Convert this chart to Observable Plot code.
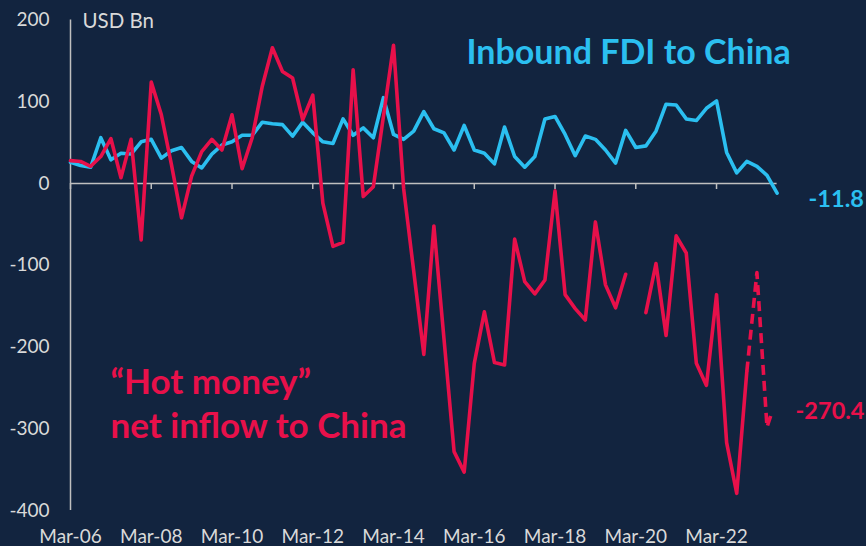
<!DOCTYPE html>
<html><head><meta charset="utf-8">
<script src="https://cdn.jsdelivr.net/npm/d3@7"></script>
<script src="https://cdn.jsdelivr.net/npm/@observablehq/plot@0.6"></script>
<style>html,body{margin:0;padding:0;background:#12243f;} #chart svg{display:block}</style>
</head><body><div id="chart"></div>
<script>
// Quarter index 0 = Mar-06 ... 70 = Sep-23
const tickQuarters = [0, 8, 16, 24, 32, 40, 48, 56, 64];
const tickLabels = ["Mar-06","Mar-08","Mar-10","Mar-12","Mar-14","Mar-16","Mar-18","Mar-20","Mar-22"];
const yTicks = [-400, -300, -200, -100, 0, 100, 200];

// Inbound FDI to China, USD Bn (quarterly)
const fdi = [26,22,20,56,29,37,36,51,54,31,40,44,27,19,36,47,51,59,59,75,
             73,72,58,75,62,51,49,79,59,68,56,105,60,54,64,88,67,62,41,71,
             41,37,24,69,33,20,33,79,82,60,34,58,54,41,25,65,44,46,64,97,
             96,79,77,92,101,38,13,27,21,10,-11.8];

// "Hot money" net inflow to China, USD Bn (quarterly, null = missing)
const hotMoney = [28,27,21,33,55,7,54,-69,124,84,23,-42,9,39,54,41,84,18,56,119,
                  166,137,129,78,108,-24,-77,-72,139,-16,-4,82,169,-6,-107,-209,-52,-190,-328,-353,
                  -220,-157,-219,-222,-68,-120,-135,-118,-9,-136,-153,-167,-47,-124,-152,-111,null,-158,-98,-186,
                  -64,-85,-220,-247,-136,-317,-379,-230];

// Estimated (dashed) hot money path
const hotMoneyEstQuarter = [67, 68, 69, 69.4];
const hotMoneyEst = [-230, -109, -298, -283];
const hotMoneyLatest = -270.4;
const lastQuarter = 70;

const BLUE = "#2bbff0", RED = "#e8104a", GRID = "#bfbfbf", TXT = "#d9d9d9";

const fdiData = fdi.map((v, i) => ({q: i, v}));
const hotData = hotMoney.map((v, i) => ({q: i, v}));
const estData = hotMoneyEstQuarter.map((q, i) => ({q, v: hotMoneyEst[i]}));

const chart = Plot.plot({
  width: 866, height: 546,
  marginLeft: 70, marginRight: 89.4, marginTop: 19.5, marginBottom: 36,
  style: {background: "#12243f", color: TXT, fontFamily: "Lato, sans-serif", fontSize: "19px", overflow: "visible"},
  x: {domain: [0, lastQuarter]},
  y: {domain: [-400, 200]},
  marks: [
    Plot.axisY({ticks: yTicks, tickSize: 0, tickPadding: 21, tickFormat: d => String(d), label: null, fill: TXT}),
    Plot.axisX({ticks: tickQuarters, tickSize: 0, tickPadding: 19, tickFormat: d => tickLabels[tickQuarters.indexOf(d)], label: null, fill: TXT}),
    Plot.ruleX([0], {stroke: GRID, strokeWidth: 1.5}),
    Plot.ruleY([0], {stroke: GRID, strokeWidth: 1.5}),
    Plot.ruleX(tickQuarters, {y1: 0, y2: 0, insetBottom: -6, stroke: GRID, strokeWidth: 1.5}),
    Plot.line(fdiData, {x: "q", y: "v", stroke: BLUE, strokeWidth: 3.6}),
    Plot.line(hotData, {x: "q", y: "v", stroke: RED, strokeWidth: 3.6}),
    Plot.line(estData, {x: "q", y: "v", stroke: RED, strokeWidth: 3.6, strokeDasharray: "10,6", strokeLinecap: "butt"}),
    Plot.text(["USD Bn"], {frameAnchor: "top-left", dx: 12, dy: 7.5, lineAnchor: "bottom", textAnchor: "start", fill: TXT, fontSize: 20.5}),
    Plot.text(["Inbound FDI to China"], {frameAnchor: "top-left", dx: 396, dy: 43.5, lineAnchor: "bottom", textAnchor: "start", fill: BLUE, fontSize: 34, fontWeight: "bold"}),
    Plot.text(["\u201CHot money\u201D\nnet inflow to China"], {frameAnchor: "top-left", dx: 40, dy: 417.5, lineAnchor: "bottom", textAnchor: "start", lineHeight: 1.257, fill: RED, fontSize: 35, fontWeight: "bold"}),
    Plot.text([fdiData[fdiData.length - 1]], {x: "q", y: "v", text: d => String(d.v), dx: 31.5, dy: 6, textAnchor: "start", fill: BLUE, fontSize: 23.5, fontWeight: "bold"}),
    Plot.text([{q: lastQuarter, v: hotMoneyLatest}], {x: "q", y: "v", text: d => String(d.v), dx: 18.5, dy: 7, textAnchor: "start", fill: RED, fontSize: 23.5, fontWeight: "bold"})
  ]
});
document.getElementById("chart").append(chart);
</script>
</body></html>
